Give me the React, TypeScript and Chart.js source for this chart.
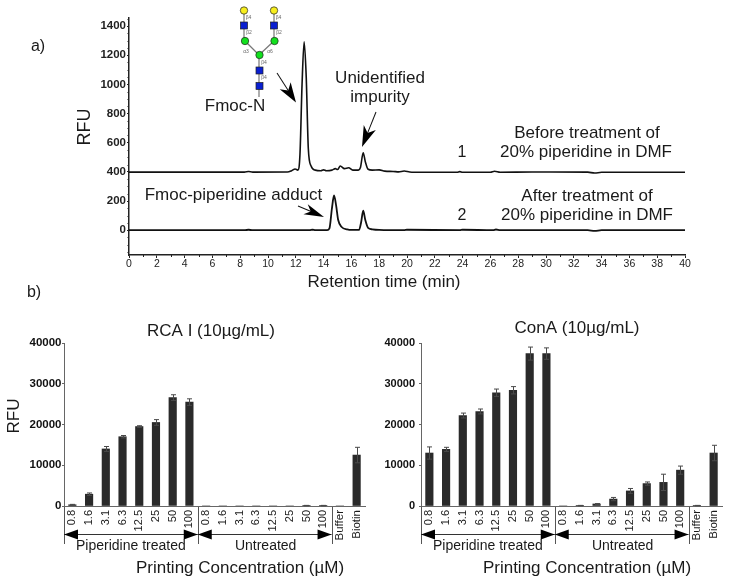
import React, { useEffect, useRef } from "react";
import { Chart, registerables } from "chart.js";

Chart.register(...registerables);

const FONT = '"Liberation Sans", Arial, sans-serif';

const beforeTimes = [0, 8.3, 8.6, 8.9, 11.4, 11.7, 11.95, 12.15, 12.3, 12.45, 12.6, 12.75, 12.9, 13.1, 13.4, 13.8, 14.0, 14.2, 14.6, 14.85, 15.0, 15.2, 15.5, 15.8, 16.1, 16.5, 16.65, 16.85, 17.0, 17.2, 17.5, 18, 18.4, 19, 19.4, 19.8, 20.2, 21, 23.6, 23.8, 24, 26, 26.3, 26.7, 29, 33, 33.5, 34, 40];
const beforeRfu = [398, 398, 403, 398, 399, 408, 420, 412, 520, 1000, 1292, 1050, 560, 440, 412, 408, 414, 408, 412, 422, 416, 440, 422, 428, 412, 412, 430, 531, 470, 418, 412, 414, 405, 403, 400, 406, 399, 397, 397, 402, 397, 397, 404, 397, 399, 398, 392, 397, 397];

const afterTimes = [0, 8.3, 8.6, 8.9, 13, 13.2, 13.4, 14.25, 14.42, 14.6, 14.75, 14.9, 15.05, 15.3, 15.7, 16, 16.55, 16.7, 16.85, 17.0, 17.2, 17.5, 18, 19.8, 20, 23.8, 24, 26.2, 26.4, 26.7, 33, 33.5, 34, 40];
const afterRfu = [0, 0, 3, 0, 0, 3, 0, 0, 12, 150, 238, 170, 70, 22, 6, 2, 2, 55, 134, 70, 16, 6, 2, 0, 3, 0, 3, 0, 5, 0, 0, -5, 0, 0];

const rfuTicks = [0, 200, 400, 600, 800, 1000, 1200, 1400];
const rfuMinorTicks = [-150, -100, -50, 50, 100, 150, 250, 300, 350, 450, 500, 550, 650, 700, 750, 850, 900, 950, 1050, 1100, 1150, 1250, 1300, 1350, 1450];
const timeMinorTicks = [1, 3, 5, 7, 9, 11, 13, 15, 17, 19, 21, 23, 25, 27, 29, 31, 33, 35, 37, 39];

const concentrations = ["0.8", "1.6", "3.1", "6.3", "12.5", "25", "50", "100", "0.8", "1.6", "3.1", "6.3", "12.5", "25", "50", "100", "Buffer", "Biotin"];

const rcaValues = [300, 2900, 14000, 17000, 19500, 20500, 26600, 25500, 0, 0, 0, 0, 0, 0, 100, 100, 0, 12500];
const rcaErrors = [100, 300, 600, 300, 200, 700, 700, 800, 0, 0, 0, 0, 0, 0, 50, 50, 0, 1900];
const conaValues = [13000, 13900, 22200, 23200, 27800, 28400, 37400, 37400, 0, 100, 500, 1700, 3700, 5500, 5800, 8800, 100, 13000];
const conaErrors = [1500, 500, 600, 600, 900, 900, 1600, 1400, 0, 50, 100, 400, 600, 400, 2000, 1000, 50, 1900];

function text(ctx: any, s: string, x: number, y: number, size: number, opts: any = {}) {
  ctx.save();
  ctx.fillStyle = opts.color || "#1a1a1a";
  ctx.font = `${opts.weight || "normal"} ${size}px ${FONT}`;
  ctx.textAlign = "center";
  ctx.textBaseline = "middle";
  ctx.translate(x, y);
  if (opts.rotate) ctx.rotate(opts.rotate);
  ctx.fillText(s, 0, 0);
  ctx.restore();
}

function stealthArrow(ctx: any, x0: number, y0: number, x1: number, y1: number, len = 20, half = 6.5) {
  const a = Math.atan2(y1 - y0, x1 - x0);
  ctx.save();
  ctx.translate(x1, y1);
  ctx.rotate(a);
  const total = Math.hypot(x1 - x0, y1 - y0);
  ctx.strokeStyle = "#111";
  ctx.lineWidth = 1;
  ctx.beginPath();
  ctx.moveTo(-total, 0);
  ctx.lineTo(-len * 0.7, 0);
  ctx.stroke();
  ctx.fillStyle = "#000";
  ctx.beginPath();
  ctx.moveTo(0, 0);
  ctx.lineTo(-len, -half);
  ctx.lineTo(-len * 0.72, 0);
  ctx.lineTo(-len, half);
  ctx.closePath();
  ctx.fill();
  ctx.restore();
}

function drawGlycan(ctx: any) {
  ctx.save();
  ctx.strokeStyle = "#777";
  ctx.lineWidth = 1.2;
  const links = [[244, 10, 244, 41], [274, 10, 274, 41], [245, 41, 259, 55], [274, 41, 259, 55], [259, 55, 259, 97]];
  links.forEach(([a, b, c, d]) => {
    ctx.beginPath();
    ctx.moveTo(a, b);
    ctx.lineTo(c, d);
    ctx.stroke();
  });
  ctx.strokeStyle = "#222";
  ctx.lineWidth = 0.7;
  const circle = (x: number, y: number, c: string) => {
    ctx.fillStyle = c;
    ctx.beginPath();
    ctx.arc(x, y, 3.7, 0, Math.PI * 2);
    ctx.fill();
    ctx.stroke();
  };
  const square = (x: number, y: number) => {
    ctx.fillStyle = "#0a1fd0";
    ctx.fillRect(x - 3.5, y - 3.5, 7, 7);
    ctx.strokeRect(x - 3.5, y - 3.5, 7, 7);
  };
  circle(244, 10.5, "#f7ee1e");
  circle(274, 10.5, "#f7ee1e");
  square(244, 25.5);
  square(274, 25.5);
  circle(245, 41, "#12e01e");
  circle(274.5, 41, "#12e01e");
  circle(259.5, 55, "#12e01e");
  square(259.5, 70.5);
  square(259.5, 86);
  const tiny = { color: "#666" };
  [["β4", 248.5, 17.5], ["β4", 278.5, 17.5], ["β2", 249, 32.5], ["β2", 279, 32.5], ["α3", 246, 51.5], ["α6", 270, 51.5], ["β4", 264, 63], ["β4", 264, 78]].forEach(
    ([s, x, y]: any) => text(ctx, s, x, y, 5, tiny)
  );
  ctx.restore();
}

const chromPlugin = {
  id: "chromNotes",
  afterDraw(chart: any) {
    const { ctx, scales } = chart;
    const x = scales.x;
    const y = scales.y;
    ctx.save();
    ctx.strokeStyle = "#222";
    ctx.lineWidth = 1;
    timeMinorTicks.forEach((t) => {
      const p = Math.round(x.getPixelForValue(t)) + 0.5;
      ctx.beginPath();
      ctx.moveTo(p, y.bottom);
      ctx.lineTo(p, y.bottom + 2);
      ctx.stroke();
    });
    rfuMinorTicks.forEach((v) => {
      const p = Math.round(y.getPixelForValue(v)) + 0.5;
      ctx.beginPath();
      ctx.moveTo(x.left, p);
      ctx.lineTo(x.left - 1.5, p);
      ctx.stroke();
    });
    ctx.restore();

    drawGlycan(ctx);
    text(ctx, "a)", 38, 47, 16);
    text(ctx, "b)", 34, 293, 16);
    text(ctx, "RFU", 85, 127, 18, { rotate: -Math.PI / 2 });
    text(ctx, "Retention time (min)", 384, 282, 17);
    text(ctx, "Fmoc-N", 235, 106, 17);
    text(ctx, "Unidentified", 380, 78, 17);
    text(ctx, "impurity", 380, 97, 17);
    text(ctx, "Fmoc-piperidine adduct", 233.5, 195, 17);
    text(ctx, "1", 462, 153, 16);
    text(ctx, "2", 462, 216, 16);
    text(ctx, "Before treatment of", 587, 133, 17);
    text(ctx, "20% piperidine in DMF", 586, 152, 17);
    text(ctx, "After treatment of", 587, 196, 17);
    text(ctx, "20% piperidine in DMF", 587, 215, 17);
    stealthArrow(ctx, 277, 73, 296, 102.5, 20, 6.5);
    stealthArrow(ctx, 376, 112, 362, 147, 21, 6.5);
    stealthArrow(ctx, 298, 206, 324, 217, 20, 5.5);
  },
};

function makeBarPlugin(title: string, titleX: number, titleY: number, axisTitleX: number, showRfu: boolean) {
  return {
    id: "barNotes",
    beforeDraw(chart: any) {
      const { ctx, scales } = chart;
      const x = scales.x;
      const y = scales.y;
      const top = y.bottom;
      const dividerEnd = top + 38;
      const arrowY = top + 28;
      const a = x.getPixelForValue(-0.5);
      const b = x.getPixelForValue(7.5);
      const c = x.getPixelForValue(15.5);
      ctx.save();
      ctx.strokeStyle = "#555";
      ctx.lineWidth = 1;
      [a, b, c].forEach((p: number) => {
        const q = Math.round(p) + 0.5;
        ctx.beginPath();
        ctx.moveTo(q, top);
        ctx.lineTo(q, dividerEnd);
        ctx.stroke();
      });
      ctx.strokeStyle = "#333";
      [[a, b], [b, c]].forEach(([s, e]) => {
        ctx.beginPath();
        ctx.moveTo(s, arrowY + 0.5);
        ctx.lineTo(e, arrowY + 0.5);
        ctx.stroke();
        ctx.fillStyle = "#000";
        ctx.beginPath();
        ctx.moveTo(s, arrowY + 0.5);
        ctx.lineTo(s + 14, arrowY - 4.5);
        ctx.lineTo(s + 14, arrowY + 5.5);
        ctx.closePath();
        ctx.fill();
        ctx.beginPath();
        ctx.moveTo(e, arrowY + 0.5);
        ctx.lineTo(e - 14, arrowY - 4.5);
        ctx.lineTo(e - 14, arrowY + 5.5);
        ctx.closePath();
        ctx.fill();
      });
      ctx.restore();
    },
    afterDatasetsDraw(chart: any) {
      const { ctx, scales } = chart;
      const x = scales.x;
      const y = scales.y;
      const ds = chart.data.datasets[0];
      ctx.save();
      ctx.strokeStyle = "#4a4a4a";
      ctx.lineWidth = 1;
      ds.errors.forEach((err: number, i: number) => {
        if (!err) return;
        const p = Math.round(x.getPixelForValue(i)) + 0.5;
        const hi = y.getPixelForValue(ds.data[i] + err);
        const lo = y.getPixelForValue(ds.data[i] - err);
        ctx.beginPath();
        ctx.moveTo(p, hi);
        ctx.lineTo(p, lo);
        ctx.moveTo(p - 2.5, hi);
        ctx.lineTo(p + 2.5, hi);
        ctx.moveTo(p - 2.5, lo);
        ctx.lineTo(p + 2.5, lo);
        ctx.stroke();
      });
      ctx.restore();
    },
    afterDraw(chart: any) {
      const { ctx, scales } = chart;
      const x = scales.x;
      const y = scales.y;
      const top = y.bottom;
      const a = x.getPixelForValue(-0.5);
      const b = x.getPixelForValue(7.5);
      const c = x.getPixelForValue(15.5);
      text(ctx, "Piperidine treated", (a + b) / 2, top + 40.5, 14);
      text(ctx, "Untreated", (b + c) / 2 + 1, top + 40.5, 14);
      text(ctx, title, titleX, titleY, 17);
      text(ctx, "Printing Concentration (µM)", axisTitleX, 258, 17);
      if (showRfu) text(ctx, "RFU", 14, 106, 17, { rotate: -Math.PI / 2 });
    },
  };
}

function barConfig(values: number[], errors: number[], leftWidth: number, rightPad: number, tickPad: number, tickSize: number, plugin: any) {
  return {
    type: "bar",
    data: {
      labels: concentrations,
      datasets: [{ data: values, errors, backgroundColor: "#2a2a2a", barThickness: 7.5 }],
    },
    plugins: [plugin],
    options: {
      animation: false,
      responsive: false,
      layout: { padding: { top: 33, right: rightPad, left: 0, bottom: 0 } },
      plugins: { legend: { display: false }, tooltip: { enabled: false } },
      scales: {
        x: {
          afterFit: (s: any) => { s.height = 78; },
          border: { color: "#666", width: 1 },
          grid: { display: false, drawTicks: false },
          ticks: {
            autoSkip: false,
            minRotation: 90,
            maxRotation: 90,
            padding: 4,
            color: "#1a1a1a",
            font: (c: any) => ({ family: FONT, size: c.index >= 16 ? 11.5 : 11 }),
          },
        },
        y: {
          min: 0,
          max: 40000,
          afterFit: (s: any) => { s.width = leftWidth; },
          border: { color: "#666", width: 1 },
          grid: { drawOnChartArea: false, tickLength: 2, color: "#666" },
          ticks: {
            stepSize: 10000,
            padding: tickPad,
            color: "#111",
            font: { family: FONT, size: tickSize, weight: "bold" },
            callback: (v: any) => String(v),
          },
        },
      },
    },
  };
}

function useChart(config: () => any) {
  const ref = useRef<HTMLCanvasElement>(null);
  useEffect(() => {
    const chart = new Chart(ref.current as any, config());
    return () => chart.destroy();
  }, []);
  return ref;
}

const canvasStyle = (left: number, top: number): React.CSSProperties => ({ position: "absolute", left, top });

export default function App() {
  const topRef = useChart(() => ({
    type: "line",
    data: {
      datasets: [
        {
          label: "Before treatment",
          data: beforeTimes.map((t, i) => ({ x: t, y: beforeRfu[i] })),
          borderColor: "#111",
          borderWidth: 1.6,
          pointRadius: 0,
          cubicInterpolationMode: "monotone",
        },
        {
          label: "After treatment",
          data: afterTimes.map((t, i) => ({ x: t, y: afterRfu[i] })),
          borderColor: "#111",
          borderWidth: 1.8,
          pointRadius: 0,
          cubicInterpolationMode: "monotone",
        },
      ],
    },
    plugins: [chromPlugin],
    options: {
      animation: false,
      responsive: false,
      layout: { padding: { top: 18, right: 44, left: 0, bottom: 0 } },
      plugins: { legend: { display: false }, tooltip: { enabled: false } },
      scales: {
        x: {
          type: "linear",
          min: 0,
          max: 40,
          afterFit: (s: any) => { s.height = 45; },
          border: { color: "#222", width: 1.5 },
          grid: { drawOnChartArea: false, tickLength: 3, color: "#222" },
          ticks: { stepSize: 2, maxRotation: 0, autoSkip: false, padding: 0, color: "#222", font: { family: FONT, size: 10.5 } },
        },
        y: {
          type: "linear",
          min: -170,
          max: 1455,
          afterFit: (s: any) => { s.width = 129; },
          afterBuildTicks: (s: any) => { s.ticks = rfuTicks.map((value) => ({ value })); },
          border: { color: "#222", width: 1.5 },
          grid: { drawOnChartArea: false, tickLength: 2, color: "#222" },
          ticks: { padding: 1, color: "#222", font: { family: FONT, size: 11.5, weight: "bold" }, callback: (v: any) => String(v) },
        },
      },
    },
  }));

  const leftRef = useChart(() =>
    barConfig(rcaValues, rcaErrors, 64, 15, 0.5, 11.5, makeBarPlugin("RCA I (10µg/mL)", 211, 21, 240, true))
  );
  const rightRef = useChart(() =>
    barConfig(conaValues, conaErrors, 51, 28, 4, 11, makeBarPlugin("ConA (10µg/mL)", 207, 18, 217, false))
  );

  return (
    <div style={{ position: "absolute", left: 0, top: 0, width: 729, height: 584, overflow: "hidden", background: "#fff" }}>
      <canvas ref={topRef} width={729} height={300} style={canvasStyle(0, 0)} />
      <canvas ref={leftRef} width={380} height={274} style={canvasStyle(0, 310)} />
      <canvas ref={rightRef} width={380} height={274} style={canvasStyle(370, 310)} />
    </div>
  );
}
